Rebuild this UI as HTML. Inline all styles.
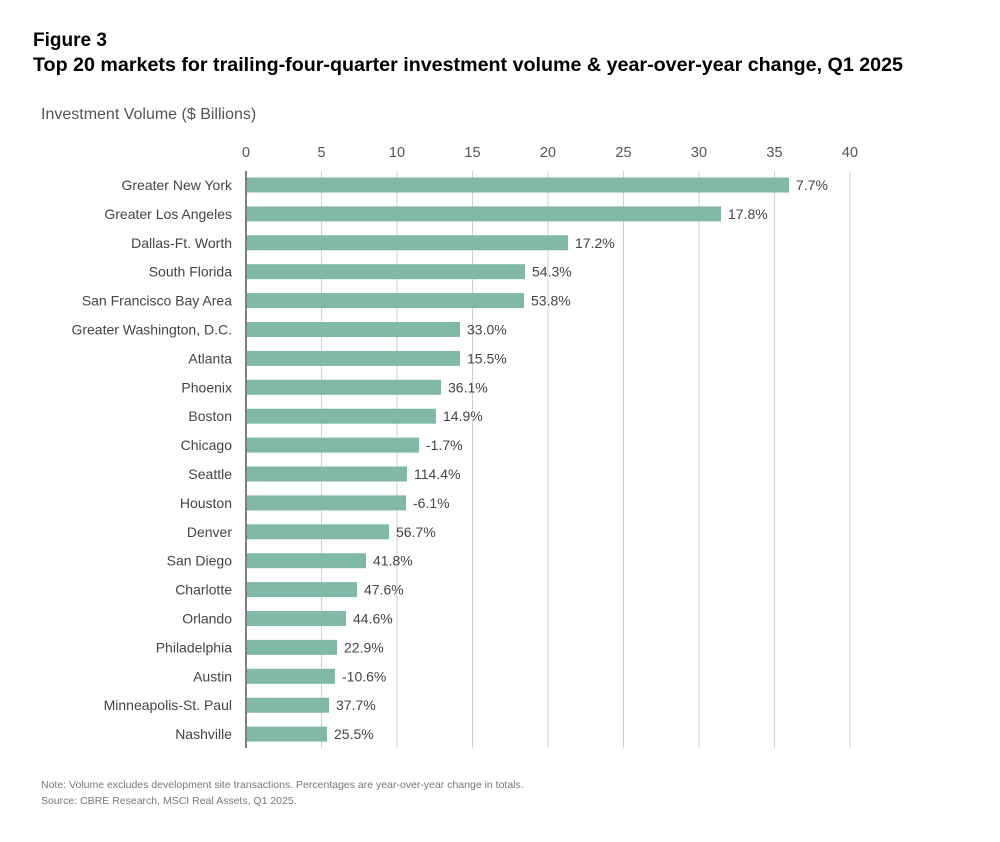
<!DOCTYPE html>
<html><head><meta charset="utf-8"><style>
body{margin:0;background:#fff;width:1000px;height:842px;overflow:hidden}
svg{display:block}
</style></head><body>
<svg width="1000" height="842" xmlns="http://www.w3.org/2000/svg" font-family="Liberation Sans, sans-serif">
<text x="33" y="46" font-size="19" font-weight="bold" fill="#000">Figure 3</text>
<text x="33" y="71" font-size="19" font-weight="bold" fill="#000" textLength="870" lengthAdjust="spacingAndGlyphs">Top 20 markets for trailing-four-quarter investment volume &amp; year-over-year change, Q1 2025</text>
<text x="41" y="119" font-size="16" fill="#555">Investment Volume ($ Billions)</text>
<g font-size="14.5" fill="#555" text-anchor="middle">
<text x="246" y="157">0</text><text x="321.5" y="157">5</text><text x="397" y="157">10</text><text x="472.5" y="157">15</text><text x="548" y="157">20</text><text x="623.5" y="157">25</text><text x="699" y="157">30</text><text x="774.5" y="157">35</text><text x="850" y="157">40</text>
</g>
<g stroke="#d0d0d0" stroke-width="1">
<line x1="321.5" y1="171" x2="321.5" y2="748"/><line x1="397" y1="171" x2="397" y2="748"/><line x1="472.5" y1="171" x2="472.5" y2="748"/><line x1="548" y1="171" x2="548" y2="748"/><line x1="623.5" y1="171" x2="623.5" y2="748"/><line x1="699" y1="171" x2="699" y2="748"/><line x1="774.5" y1="171" x2="774.5" y2="748"/><line x1="850" y1="171" x2="850" y2="748"/>
</g>
<g id="bars" fill="#80b9a8"></g>
<g id="labs" font-size="14" fill="#444"></g>
<line x1="246" y1="171" x2="246" y2="748" stroke="#555" stroke-width="1.5"/>
<text x="41" y="788" font-size="10.5" fill="#777">Note: Volume excludes development site transactions. Percentages are year-over-year change in totals.</text>
<text x="41" y="804" font-size="10.5" fill="#777">Source: CBRE Research, MSCI Real Assets, Q1 2025.</text>
<script>
var d=[["Greater New York",789,"7.7%"],["Greater Los Angeles",721,"17.8%"],["Dallas-Ft. Worth",568,"17.2%"],["South Florida",525,"54.3%"],["San Francisco Bay Area",524,"53.8%"],["Greater Washington, D.C.",460,"33.0%"],["Atlanta",460,"15.5%"],["Phoenix",441,"36.1%"],["Boston",436,"14.9%"],["Chicago",419,"-1.7%"],["Seattle",407,"114.4%"],["Houston",406,"-6.1%"],["Denver",389,"56.7%"],["San Diego",366,"41.8%"],["Charlotte",357,"47.6%"],["Orlando",346,"44.6%"],["Philadelphia",337,"22.9%"],["Austin",335,"-10.6%"],["Minneapolis-St. Paul",329,"37.7%"],["Nashville",327,"25.5%"]];
var ns="http://www.w3.org/2000/svg",b=document.getElementById("bars"),l=document.getElementById("labs");
d.forEach(function(r,i){var c=185+i*28.9;
var e=document.createElementNS(ns,"rect");e.setAttribute("x",247);e.setAttribute("y",c-7.5);e.setAttribute("width",r[1]-247);e.setAttribute("height",15);b.appendChild(e);
var t=document.createElementNS(ns,"text");t.setAttribute("x",232);t.setAttribute("y",c+5);t.setAttribute("text-anchor","end");t.textContent=r[0];l.appendChild(t);
t=document.createElementNS(ns,"text");t.setAttribute("x",r[1]+7);t.setAttribute("y",c+5);t.textContent=r[2];l.appendChild(t);});
</script>
</svg>
</body></html>
